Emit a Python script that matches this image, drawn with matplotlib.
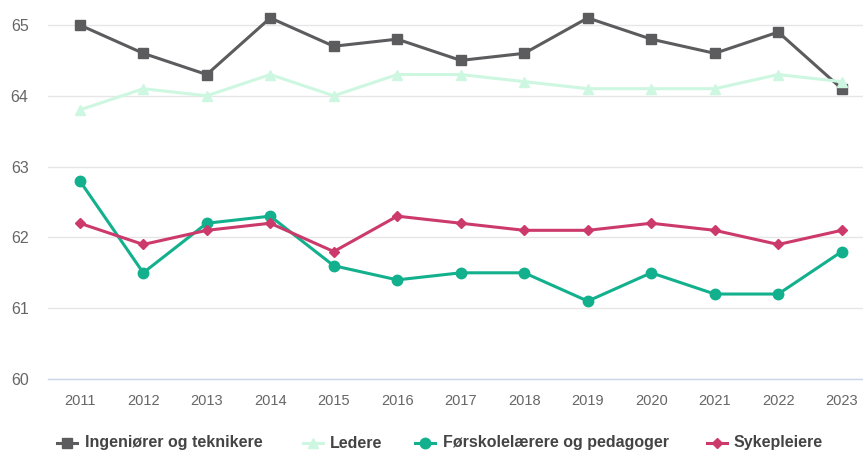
import matplotlib
matplotlib.use("Agg")
import matplotlib.pyplot as plt
from matplotlib.lines import Line2D

years = [2011, 2012, 2013, 2014, 2015, 2016, 2017, 2018, 2019, 2020, 2021, 2022, 2023]
ingeniorer = [65.0, 64.6, 64.3, 65.1, 64.7, 64.8, 64.5, 64.6, 65.1, 64.8, 64.6, 64.9, 64.1]
ledere = [63.8, 64.1, 64.0, 64.3, 64.0, 64.3, 64.3, 64.2, 64.1, 64.1, 64.1, 64.3, 64.2]
forskole = [62.8, 61.5, 62.2, 62.3, 61.6, 61.4, 61.5, 61.5, 61.1, 61.5, 61.2, 61.2, 61.8]
sykepleiere = [62.2, 61.9, 62.1, 62.2, 61.8, 62.3, 62.2, 62.1, 62.1, 62.2, 62.1, 61.9, 62.1]
yticks = [60, 61, 62, 63, 64, 65]
names = ["Ingeniører og teknikere", "Ledere", "Førskolelærere og pedagoger", "Sykepleiere"]

styles = [
    ("#5c5c5e", "s", 7.5),
    ("#cdf7e0", "^", 7.5),
    ("#12b08c", "o", 7.5),
    ("#cc3a6c", "D", 5.5),
]
data = [ingeniorer, ledere, forskole, sykepleiere]

plt.rcParams['font.family'] = ['Liberation Sans', 'DejaVu Sans']
W, H = 863, 453
fig = plt.figure(figsize=(W/100, H/100), dpi=100)
ax = fig.add_axes([48/W, 1-379/H, 1-48/W, 379/H])

for name, vals, (col, mk, ms) in zip(names, data, styles):
    ax.plot(years, vals, color=col, marker=mk, markersize=ms, linewidth=2.2,
            label=name, zorder=3, clip_on=False)

ax.set_xlim(2010.5, 2010.5 + (W-48)/63.5)
ax.set_ylim(60, 60 + 379/70.8)
ax.set_yticks(yticks)
ax.set_xticks(years)
ax.set_xticklabels([str(y) for y in years])
ax.grid(axis='y', color='#e6e6e6', linewidth=1)
ax.set_axisbelow(True)
for s in ['top', 'right', 'left']:
    ax.spines[s].set_visible(False)
ax.spines['bottom'].set_color('#ccd6eb')
ax.spines['bottom'].set_linewidth(1)
ax.tick_params(axis='y', length=0, pad=14, labelsize=11.5, labelcolor='#666666')
ax.tick_params(axis='x', length=0, pad=11, labelsize=10.5, labelcolor='#666666')

# manual legend layout (pixel positions)
handle_cx = [67, 313, 425, 717]
text_x = [85, 330, 443, 734]
ly = 1 - 443/H
for name, (col, mk, ms), hx, tx in zip(names, styles, handle_cx, text_x):
    fig.add_artist(Line2D([(hx-10)/W, (hx+10)/W], [ly, ly], transform=fig.transFigure,
                          color=col, linewidth=2.2))
    fig.add_artist(Line2D([hx/W], [ly], transform=fig.transFigure, color=col,
                          marker=mk, markersize=ms, linewidth=0))
    fig.text(tx/W, ly, name, ha='left', va='center', fontsize=11.5,
             fontweight='bold', color='#444444')

fig.savefig("out.png", dpi=100)
